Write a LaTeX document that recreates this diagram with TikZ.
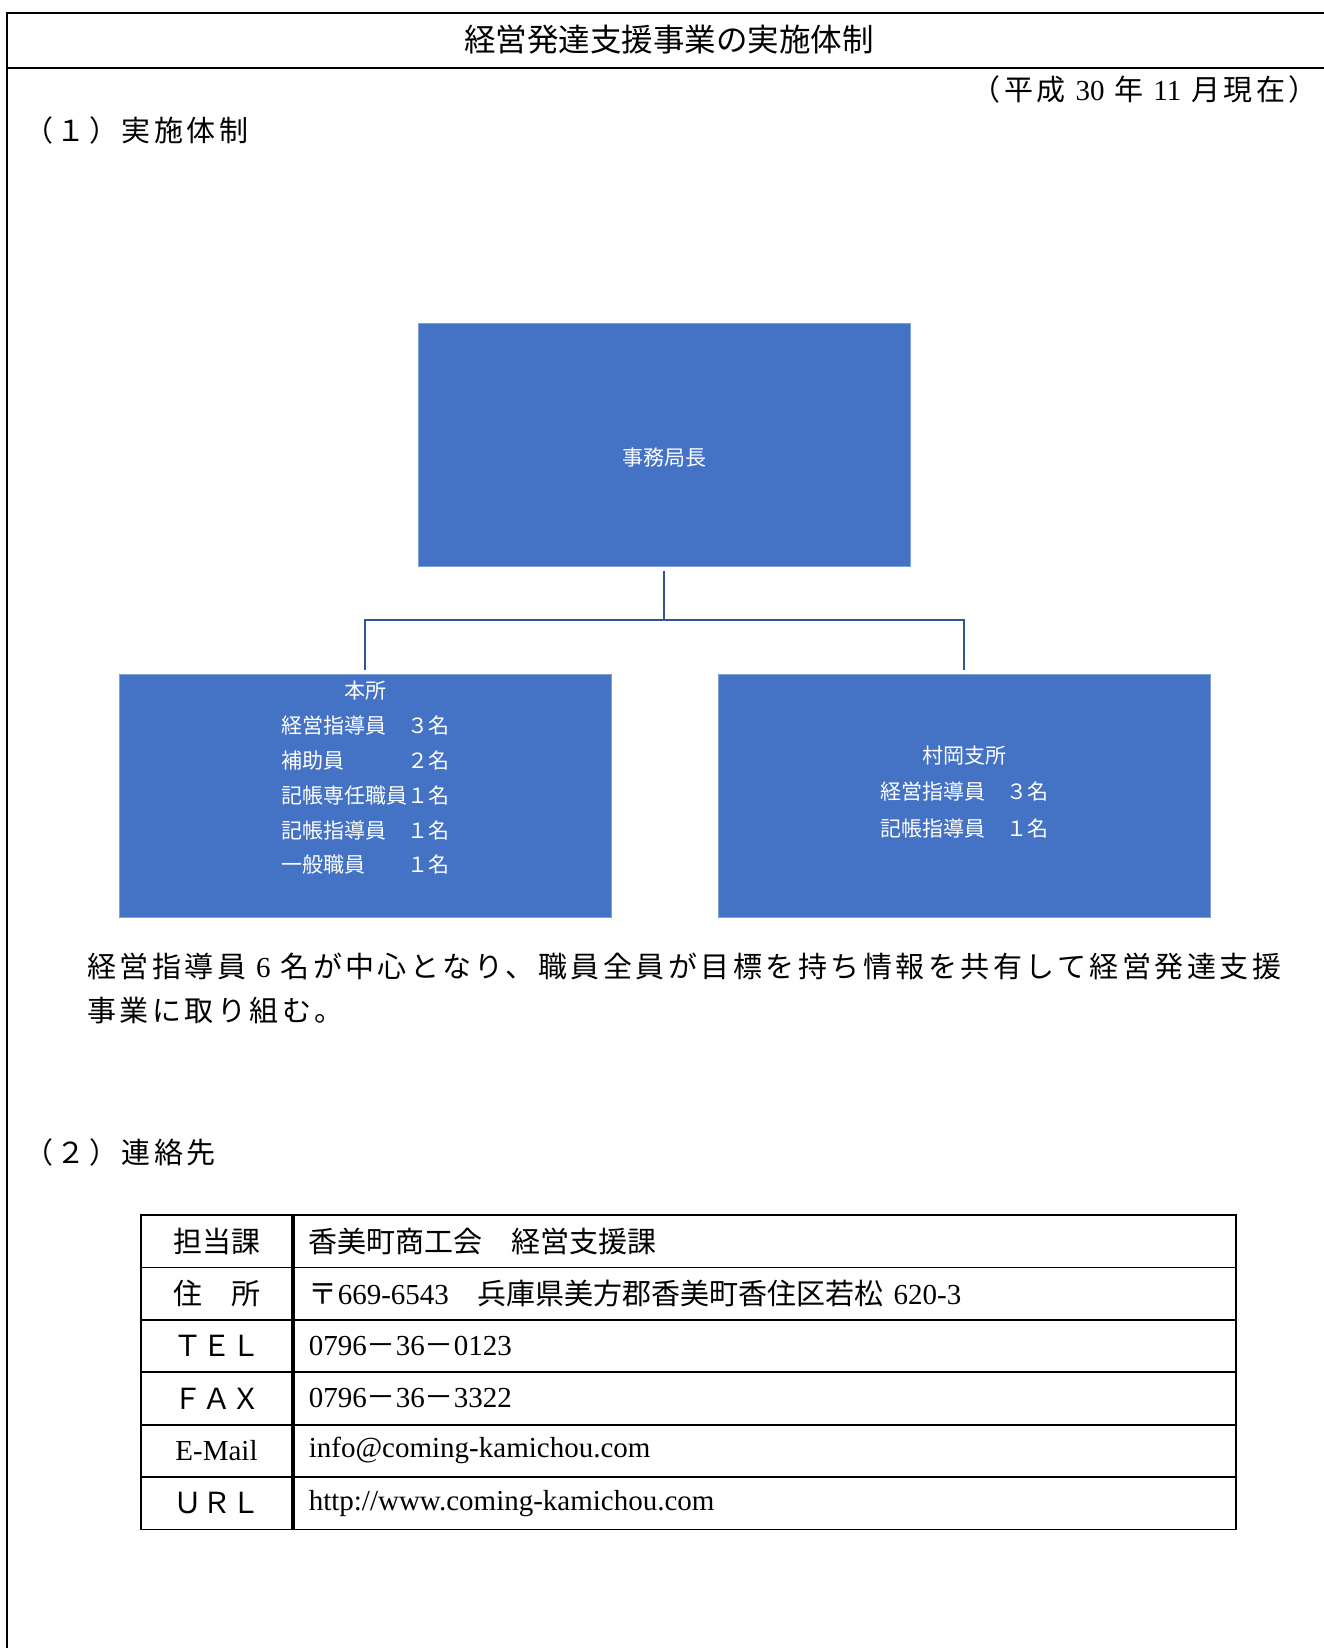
\documentclass[tikz,border=0pt]{standalone}
\usepackage{fontspec}
\setmainfont{Noto Sans CJK JP}
\newfontfamily\lat{Liberation Serif}
\definecolor{boxblue}{HTML}{4472C4}
\definecolor{boxedge}{HTML}{7FA0D8}
\definecolor{linkblue}{HTML}{2F5597}
\begin{document}
\begin{tikzpicture}[x=1pt,y=-1pt]
\tikzset{
  bodytext/.style={inner sep=0, font=\fontsize{29}{35}\selectfont},
  spaced/.style={inner sep=0, font=\fontsize{29}{35}\selectfont\addfontfeature{LetterSpace=12}},
  orgbox/.style={rectangle, fill=boxblue, draw=boxedge, line width=1,
    minimum width=492, minimum height=243, inner sep=0},
  orgtext/.style={text=white, inner sep=0, align=center},
  conn/.style={draw=linkblue, line width=2.5},
  keycell/.style={draw, line width=1.8, minimum width=151, minimum height=52.4,
    inner sep=0, font=\fontsize{29}{35}\selectfont},
  valcell/.style={draw, line width=1.8, minimum height=52.4, text width=912,
    inner xsep=15, inner ysep=0, align=left, font=\fontsize{29}{35}\selectfont}
}
\useasboundingbox (0,0) rectangle (1324,1648);
\fill[white] (0,0) rectangle (1324,1648);
% outer frame
\draw[line width=2] (7,1660) -- (7,12.7) -- (1340,12.7);
\draw[line width=2] (7,68) -- (1340,68);

\node[inner sep=0, font=\fontsize{31.5}{36}\selectfont] (title) at (669,40) {経営発達支援事業の実施体制};
\node[spaced, anchor=east] (date) at (1318,89) {（平成 {\lat 30} 年 {\lat 11} 月現在）};
\node[spaced, anchor=west] (h1) at (24,130) {（１）実施体制};

% org chart
\node[orgbox] (chief) at (664,444.5) {};
\node[orgtext, font=\fontsize{21}{25}\selectfont] (chieft) at (664,458) {事務局長};
\node[orgbox] (honsho) at (365,796) {};
\node[orgbox] (muraoka) at (964,796) {};
\node[orgtext, font=\fontsize{21}{34.8}\selectfont] (honshot) at (365,778) {本所\\
  \makebox[6em][l]{経営指導員}３名\\
  \makebox[6em][l]{補助員}２名\\
  \makebox[6em][l]{記帳専任職員}１名\\
  \makebox[6em][l]{記帳指導員}１名\\
  \makebox[6em][l]{一般職員}１名};
\node[orgtext, font=\fontsize{21}{36.5}\selectfont] (muraokat) at (964,792) {村岡支所\\
  \makebox[6em][l]{経営指導員}３名\\
  \makebox[6em][l]{記帳指導員}１名};
\coordinate (j) at (664,620);
\draw[conn, shorten <=4pt] (chief.south) -- (j);
\draw[conn, shorten >=4pt] (j) -| (honsho.north);
\draw[conn, shorten >=4pt] (j) -| (muraoka.north);

% paragraph
\node[spaced, anchor=west] (p1) at (87,966)
  {経営指導員 {\lat 6} 名が中心となり、職員全員が目標を持ち情報を共有して経営発達支援};
\node[spaced, anchor=west] (p2) at (87,1010)
  {事業に取り組む。};

\node[spaced, anchor=west] (h2) at (24,1152) {（２）連絡先};

% contact table
\node[keycell] (k1) at (216.5,1241.2) {担当課};
\node[keycell] (k2) at (216.5,1293.6) {住　所};
\node[keycell] (k3) at (216.5,1346.0) {ＴＥＬ};
\node[keycell] (k4) at (216.5,1398.4) {ＦＡＸ};
\node[keycell] (k5) at (216.5,1450.8) {\lat E-Mail};
\node[keycell] (k6) at (216.5,1503.2) {ＵＲＬ};
\node[valcell, anchor=west] (v1) at (k1.east) {香美町商工会　経営支援課};
\node[valcell, anchor=west] (v2) at (k2.east) {〒{\lat 669-6543}　兵庫県美方郡香美町香住区若松 {\lat 620-3}};
\node[valcell, anchor=west] (v3) at (k3.east) {{\lat 0796}－{\lat 36}－{\lat 0123}};
\node[valcell, anchor=west] (v4) at (k4.east) {{\lat 0796}－{\lat 36}－{\lat 3322}};
\node[valcell, anchor=west] (v5) at (k5.east) {\lat info@coming-kamichou.com};
\node[valcell, anchor=west] (v6) at (k6.east) {\lat http://www.coming-kamichou.com};
\end{tikzpicture}
\end{document}
